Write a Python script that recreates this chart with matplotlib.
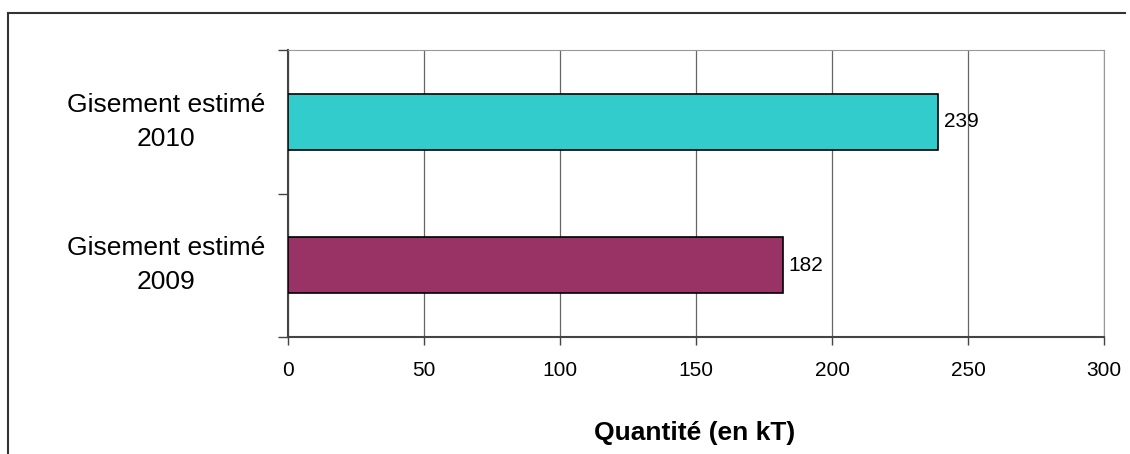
import matplotlib.pyplot as plt
from matplotlib.lines import Line2D
from matplotlib.transforms import blended_transform_factory

# data
categories = ['Gisement estimé\n2009', 'Gisement estimé\n2010']
quantities = [182, 239]
bar_colors = ['#993366', '#33CCCC']
x_ticks = [0, 50, 100, 150, 200, 250, 300]

plt.rcParams['font.family'] = ['Liberation Sans', 'DejaVu Sans']

fig = plt.figure(figsize=(11.3, 4.54), dpi=100)
ax = fig.add_axes([288 / 1130, 1 - 337 / 454, (1104 - 288) / 1130, (337 - 50) / 454])

ypos = list(range(len(categories)))
bars = ax.barh(ypos, quantities, height=0.39, color=bar_colors,
               edgecolor='black', linewidth=1.2, zorder=3)

# value labels at the end of each bar
ax.bar_label(bars, labels=[str(q) for q in quantities], padding=4, fontsize=15)

ax.set_xlim(0, 300)
ax.set_ylim(-0.5, len(categories) - 0.5)
ax.set_xticks(x_ticks)
ax.set_xticklabels([str(t) for t in x_ticks], fontsize=15)
ax.tick_params(axis='x', length=6, width=1, color='#444444', pad=11)

# category separators on the y axis, names drawn to the left
ax.set_yticks([-0.5, 0.5, 1.5])
ax.set_yticklabels([])
ax.tick_params(axis='y', length=7, width=1, color='#444444')
trans = blended_transform_factory(fig.transFigure, ax.transData)
for y, name in zip(ypos, categories):
    ax.text(166 / 1130, y, name, transform=trans, ha='center', va='center',
            fontsize=19, linespacing=1.55)

ax.grid(axis='x', color='#666666', linewidth=0.9, zorder=0)
ax.spines['left'].set_color('#444444')
ax.spines['bottom'].set_color('#444444')
ax.spines['left'].set_linewidth(1.5)
ax.spines['bottom'].set_linewidth(1.5)
ax.spines['top'].set_color('#999999')
ax.spines['right'].set_color('#999999')

fig.text(695 / 1130, 1 - 433 / 454, 'Quantité (en kT)', ha='center', va='center',
         fontsize=19, fontweight='bold')

# outer frame (top and left edges)
fig.add_artist(Line2D([8 / 1130, 8 / 1130], [0, 1 - 13 / 454],
                      transform=fig.transFigure, color='#333333', linewidth=1.5))
fig.add_artist(Line2D([8 / 1130, 1125 / 1130], [1 - 13 / 454, 1 - 13 / 454],
                      transform=fig.transFigure, color='#333333', linewidth=1.5))

fig.savefig('out.png', dpi=100)
